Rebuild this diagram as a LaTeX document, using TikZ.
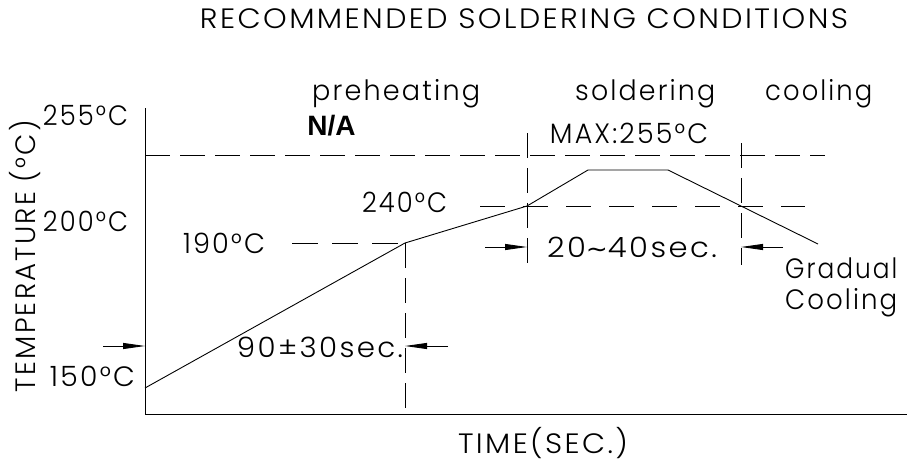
\documentclass[tikz,border=0pt]{standalone}
\usepackage{fontspec}
\usepackage{graphicx}
\setmainfont{Poppins Light}[LetterSpace=8]
\newfontfamily\nafont{Liberation Sans}
\newfontfamily\symfont{DejaVu Sans}
\usetikzlibrary{arrows.meta}
\newcommand\fw[2]{\resizebox{#1pt}{\height}{#2}}
\begin{document}
\begin{tikzpicture}[x=1pt,y=-1pt,
  lbl/.style={inner sep=0pt,font=\fontsize{28}{30}\selectfont},
  axis/.style={line width=1pt},
  prof/.style={line width=0.9pt},
  dsh/.style={line width=0.9pt,dash pattern=on 25pt off 10pt},
  dshwide/.style={line width=0.9pt,dash pattern=on 25pt off 18pt},
  dim/.style={line width=0.9pt,-{Triangle[length=22pt,width=6pt]}}]
\useasboundingbox (0,0) rectangle (918,466);
% axes
\coordinate (ytop) at (145,108);
\coordinate (orig) at (145,414);
\coordinate (xend) at (907,414);
\draw[axis] (ytop) -- (orig) -- (xend);
% horizontal dashed
\coordinate (h255a) at (145,155); \coordinate (h255b) at (825,155);
\draw[dsh] (h255a) -- (h255b);
\coordinate (h240a) at (480,206); \coordinate (h240b) at (805,206);
\draw[dshwide] (h240a) -- (h240b);
\coordinate (h190a) at (292,243); \coordinate (p2) at (405,243);
\draw[line width=0.9pt,dash pattern=on 26pt off 14pt] (h190a) -- (p2);
% vertical dashed
\coordinate (v1b) at (405,414);
\draw[dsh] (p2) -- (v1b);
\coordinate (v2a) at (527,133); \coordinate (v2b) at (527,265);
\draw[dsh] (v2a) -- (v2b);
\coordinate (v3a) at (741,143); \coordinate (v3b) at (741,265);
\draw[dsh] (v3a) -- (v3b);
% profile
\coordinate (p1) at (145,388);
\coordinate (p3) at (527,206);
\coordinate (p4) at (588,170);
\coordinate (p5) at (668,170);
\coordinate (p6) at (818,244);
\draw[prof] (p1) -- (p2) -- (p3) -- (p4) -- (p5) -- (p6);
% dimension arrows
\coordinate (a1) at (103,346); \coordinate (a1e) at (145,346);
\coordinate (a2) at (448,346); \coordinate (a2e) at (405,346);
\coordinate (a3) at (485,247); \coordinate (a3e) at (527,247);
\coordinate (a4) at (783,247); \coordinate (a4e) at (741,247);
\draw[dim] (a1) -- (a1e);
\draw[dim] (a2) -- (a2e);
\draw[dim] (a3) -- (a3e);
\draw[dim] (a4) -- (a4e);
% texts
\node[lbl] (title) at (524,19) {\fw{648}{RECOMMENDED SOLDERING CONDITIONS}};
\node[lbl,anchor=base west] (pre) at (312,100) {\fw{168}{preheating}};
\node[lbl,anchor=base west] (sol) at (575,100) {\fw{140}{soldering}};
\node[lbl,anchor=base west] (coo) at (765,100) {\fw{107}{cooling}};
\node[inner sep=0pt,font=\nafont\bfseries\fontsize{28}{30}\selectfont] (na) at (331.5,125.5) {N/A};
\node[lbl] (t255) at (85.5,115) {\fw{85}{255°C}};
\node[lbl] (t200) at (85.5,221) {\fw{85}{200°C}};
\node[lbl] (t150) at (92.5,376) {\fw{85}{150°C}};
\node[lbl] (t190) at (224,243) {\fw{82}{190°C}};
\node[lbl] (t240) at (404.5,202) {\fw{85}{240°C}};
\node[lbl] (tmax) at (629,133) {\fw{158}{MAX:255°C}};
\node[lbl] (t2040) at (632,247) {\fw{170}{20{\symfont\fontsize{24}{26}\selectfont ∼}40sec.}};
\node[lbl] (t9030) at (320,347) {\fw{166}{90±30sec.}};
\node[lbl,anchor=base west] (grad) at (785,278) {\fw{112}{Gradual}};
\node[lbl,anchor=base west] (cool) at (785,309) {\fw{112}{Cooling}};
\node[lbl,rotate=90] (ylab) at (25,256) {\fw{272}{TEMPERATURE (°C)}};
\node[lbl] (xlab) at (543,443) {\fw{170}{TIME(SEC.)}};
\end{tikzpicture}
\end{document}
